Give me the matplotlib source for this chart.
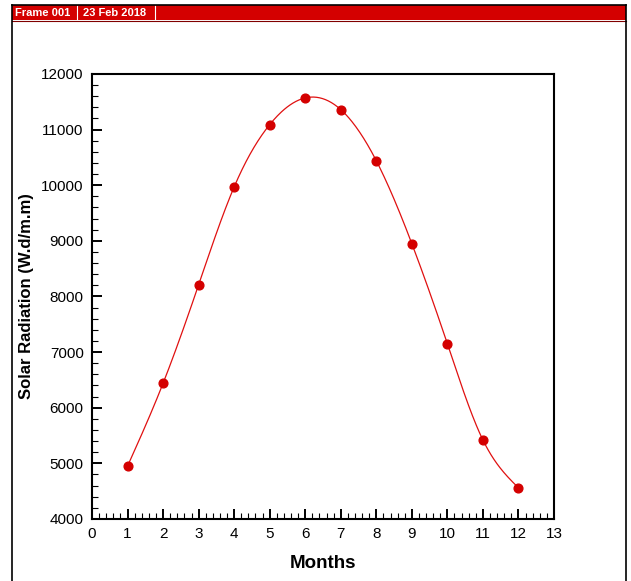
import numpy as np
import matplotlib
matplotlib.use("Agg")
import matplotlib.pyplot as plt
from matplotlib.lines import Line2D
from matplotlib.patches import Rectangle
from matplotlib.ticker import MultipleLocator

months = [1, 2, 3, 4, 5, 6, 7, 8, 9, 10, 11, 12]
radiation = [4950, 6440, 8210, 9970, 11090, 11570, 11360, 10440, 8950, 7150, 5420, 4560]
x_ticks = list(range(0, 14))
y_ticks = list(range(4000, 12001, 1000))
header_frame = "Frame 001"
header_date = "23 Feb 2018"


def natural_spline(x, y, n=400):
    x = np.asarray(x, float)
    y = np.asarray(y, float)
    k = len(x)
    h = np.diff(x)
    A = np.zeros((k, k))
    b = np.zeros(k)
    A[0, 0] = 1
    A[-1, -1] = 1
    for i in range(1, k - 1):
        A[i, i - 1] = h[i - 1]
        A[i, i] = 2 * (h[i - 1] + h[i])
        A[i, i + 1] = h[i]
        b[i] = 3 * ((y[i + 1] - y[i]) / h[i] - (y[i] - y[i - 1]) / h[i - 1])
    c = np.linalg.solve(A, b)
    xs = np.linspace(x[0], x[-1], n)
    ys = np.empty_like(xs)
    for j, xv in enumerate(xs):
        i = min(np.searchsorted(x, xv, side="right") - 1, k - 2)
        dx = xv - x[i]
        bi = (y[i + 1] - y[i]) / h[i] - h[i] * (2 * c[i] + c[i + 1]) / 3
        di = (c[i + 1] - c[i]) / (3 * h[i])
        ys[j] = y[i] + bi * dx + c[i] * dx ** 2 + di * dx ** 3
    return xs, ys


plt.rcParams['font.family'] = ['Liberation Sans', 'DejaVu Sans']

W, H = 631, 581
fig = plt.figure(figsize=(W / 100, H / 100), dpi=100)
fig.patch.set_facecolor("white")

# Frame header band and border
red = "#d40000"
fig.patches.append(Rectangle((12 / W, 1 - 20 / H), (626 - 12) / W, 15 / H,
                             transform=fig.transFigure, facecolor=red,
                             edgecolor="none", zorder=1))
fig.lines.append(Line2D([12 / W, 626 / W], [1 - 20.5 / H, 1 - 20.5 / H],
                        transform=fig.transFigure, color="#800000", lw=0.8))
for xs_ in (12, 626):
    fig.lines.append(Line2D([xs_ / W, xs_ / W], [0, 1 - 5 / H],
                            transform=fig.transFigure, color="black", lw=1.2))
fig.lines.append(Line2D([12 / W, 626 / W], [1 - 5 / H, 1 - 5 / H],
                        transform=fig.transFigure, color="black", lw=1.2))
for sx in (77, 155):
    fig.lines.append(Line2D([sx / W, sx / W], [1 - 19 / H, 1 - 6 / H],
                            transform=fig.transFigure, color="white", lw=0.8))
fig.text(15 / W, 1 - 12.8 / H, header_frame, color="white", fontsize=8,
         fontweight="bold", va="center", ha="left")
fig.text(83 / W, 1 - 12.8 / H, header_date, color="white", fontsize=8,
         fontweight="bold", va="center", ha="left")

ax = fig.add_axes([92 / W, 1 - 519 / H, (554 - 92) / W, (519 - 74) / H])

xs, ys = natural_spline(months, radiation)
ax.plot(xs, ys, color="#e01010", lw=0.9, zorder=2)
ax.plot(months, radiation, "o", color=red, markersize=6.3, zorder=3)

ax.set_xlim(0, 13)
ax.set_ylim(4000, 12000)
ax.set_xticks(x_ticks)
ax.set_yticks(y_ticks)
ax.xaxis.set_minor_locator(MultipleLocator(0.2))
ax.yaxis.set_minor_locator(MultipleLocator(200))
ax.tick_params(which="major", direction="in", length=7, width=1.4,
               labelsize=11, pad=6, top=False, right=False)
ax.tick_params(which="minor", direction="in", length=4.2, width=0.8,
               top=False, right=False)
for s in ax.spines.values():
    s.set_linewidth(1.5)

ax.set_xlabel("Months", fontsize=13.5, fontweight="bold", labelpad=10)
ax.set_ylabel("Solar Radiation (W.d/m.m)", fontsize=12, fontweight="bold",
              labelpad=5.5)

fig.savefig("out.png", dpi=100)
